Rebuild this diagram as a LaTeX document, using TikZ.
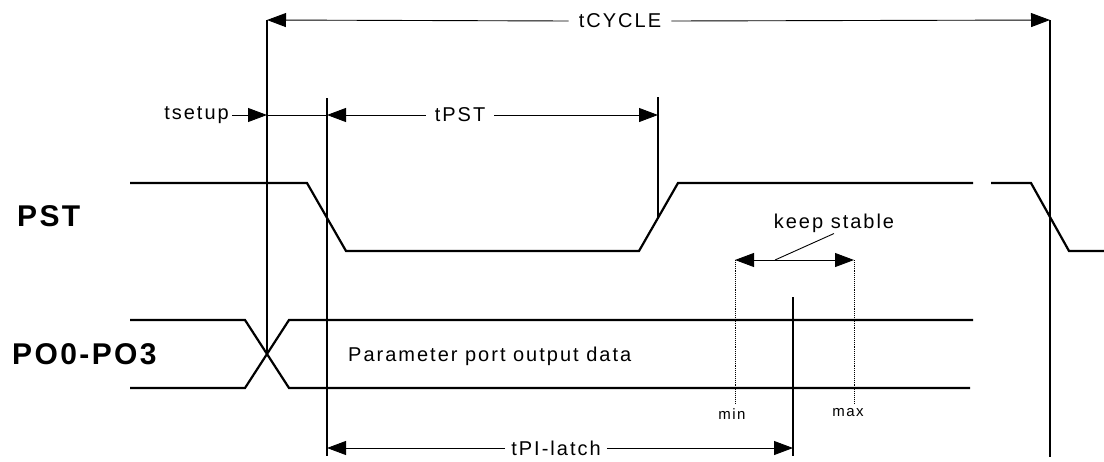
\documentclass[tikz,border=0pt]{standalone}
\usepackage{fontspec}
\setmainfont{Liberation Sans}
\newfontfamily\dimfont[LetterSpace=10]{Liberation Sans}
\newfontfamily\sigfont[LetterSpace=8]{Liberation Sans}
\usetikzlibrary{arrows.meta}

\begin{document}
\begin{tikzpicture}[x=1pt, y=-1pt]
        \tikzstyle{wave} = [line width=2.2pt, line join=miter]
        \tikzstyle{guide} = [line width=1.1pt]
        \tikzstyle{dots} = [line width=0.9pt, densely dotted]
        \tikzstyle{dim} = [draw, line width=0.9pt, -{Triangle[length=19pt, width=14pt]}]
        \tikzstyle{dimboth} = [draw, line width=0.9pt, {Triangle[length=19pt, width=14pt]}-{Triangle[length=19pt, width=14pt]}]
        \tikzstyle{dimtext} = [font=\dimfont\fontsize{20}{24}\selectfont, inner xsep=10pt, inner ysep=0pt]
        \tikzstyle{small} = [font=\dimfont\fontsize{15}{18}\selectfont, inner sep=0pt]
        \tikzstyle{signal} = [font=\sigfont\bfseries\fontsize{30}{34}\selectfont, inner sep=0pt, anchor=west]

        \useasboundingbox (0,0) rectangle (1104,461);

        \coordinate (cycL) at (267,20);
        \coordinate (cycR) at (1050,20);
        \coordinate (setR) at (267,115);
        \coordinate (pstL) at (327,115);
        \coordinate (pstR) at (658,115);
        \coordinate (latL) at (327,448);
        \coordinate (latR) at (793,448);
        \coordinate (minP) at (735,260);
        \coordinate (maxP) at (854,260);
        \coordinate (lead) at (775,260);

        \node [signal] (pst) at (17,216) {PST};
        \node [signal] (po) at (12,354) {PO0-PO3};
        \node [dimtext] (tcycle) at (620,21) {tCYCLE};
        \node [dimtext, inner xsep=3pt, anchor=east] (tsetup) at (232,115) {tsetup};
        \node [dimtext, inner xsep=9pt] (tpst) at (460,115) {tPST};
        \node [dimtext, inner xsep=6pt] (tpi) at (556,448) {tPI-latch};
        \node [dimtext, inner sep=0pt, anchor=west] (data) at (348,356) {Parameter port output data};
        \node [dimtext, inner sep=1pt] (keep) at (834,223) {keep stable};
        \node [small] (min) at (732,414) {min};
        \node [small] (max) at (848,413) {max};

        \draw [wave] (130,183) -- (307,183) -- (346,251) -- (639,251) -- (678,183) -- (973,183);
        \draw [wave] (991,183) -- (1031,183) -- (1069,251) -- (1104,251);
        \draw [wave] (130,320) -- (245,320) -- (289,388) -- (970,388);
        \draw [wave] (130,388) -- (245,388) -- (289,320) -- (973,320);

        \draw [guide] (cycL) -- (267,353);
        \draw [guide] (cycR) -- (1050,457);
        \draw [guide] (327,98) -- (327,456);
        \draw [guide] (658,97) -- (658,219);
        \draw [guide] (793,297) -- (793,456);
        \draw [dots] (minP) -- (735,403);
        \draw [dots] (maxP) -- (854,403);

        \path [dim] (tcycle.west) -- (cycL);
        \path [dim] (tcycle.east) -- (cycR);
        \path [dim] (tsetup.east) -- (setR);
        \draw [line width=0.9pt] (setR) -- (pstL);
        \path [dim] (tpst.west) -- (pstL);
        \path [dim] (tpst.east) -- (pstR);
        \path [dim] (tpi.west) -- (latL);
        \path [dim] (tpi.east) -- (latR);
        \path [dimboth] (minP) -- (maxP);
        \draw [line width=0.9pt] (lead) -- (keep.south);
\end{tikzpicture}
\end{document}
